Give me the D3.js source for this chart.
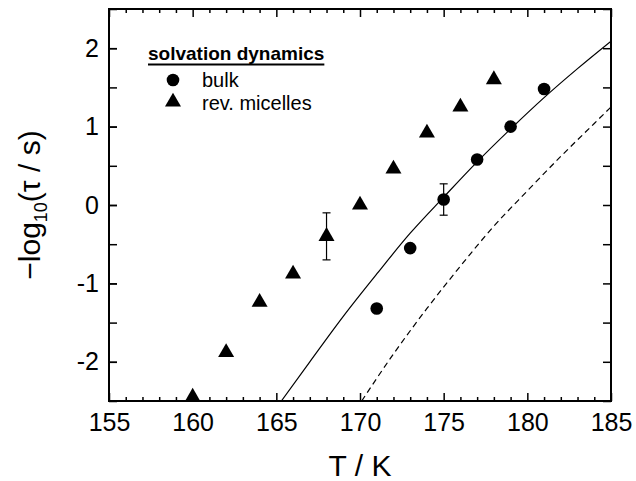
<!doctype html>
<html>
<head>
<meta charset="UTF-8">
<title>solvation dynamics</title>
<script src="https://d3js.org/d3.v7.min.js"></script>
<style>
body{margin:0;background:#fff;}
text{font-family:"Liberation Sans",Arial,sans-serif;fill:#000;}
</style>
</head>
<body>
<script>
// bulk solvation dynamics (circles)
var bulkT = [171,173,175,177,179,181];
var bulkV = [-1.32,-0.55,0.07,0.58,1.0,1.48];
var bulkErr = [0,0,0.2,0,0,0];
// reverse micelles (triangles)
var micT = [160,162,164,166,168,170,172,174,176,178];
var micV = [-2.45,-1.88,-1.24,-0.88,-0.40,0.0,0.46,0.92,1.25,1.60];
var micErr = [0,0,0,0,0.3,0,0,0,0,0];
// solid fit curve
var fitT = [165.3,167,169,171,173,175,177,179,181,183,185];
var fitV = [-2.5,-2.0,-1.42,-0.88,-0.36,0.1,0.55,0.97,1.37,1.74,2.09];
// dashed curve
var dashT = [170.1,172,174,176,178,180,182,184,185];
var dashV = [-2.5,-1.9,-1.32,-0.78,-0.27,0.18,0.62,1.04,1.25];

var xTicks = [155,160,165,170,175,180,185];
var yTicks = [-2,-1,0,1,2];
var yTickLabels = ["-2","-1","0","1","2"];

var w = 636, h = 481;
var padL = 109, padR = 611, padT = 9, padB = 401;

var x = d3.scaleLinear().domain([155,185]).range([padL,padR]);
var y = d3.scaleLinear().domain([-2.5,2.5]).range([padB,padT]);

var svg = d3.select("body").append("svg").attr("width",w).attr("height",h);

svg.append("clipPath").attr("id","plot")
    .append("rect").attr("x",padL).attr("y",padT).attr("width",padR-padL).attr("height",padB-padT);

function pairs(a,b){
    return a.map(function(d,i){ return [d,b[i]]; });
}

var line = d3.line()
    .x(function(d){ return x(d[0]); })
    .y(function(d){ return y(d[1]); })
    .curve(d3.curveMonotoneX);

svg.append("path").datum(pairs(fitT,fitV))
    .attr("d",line).attr("fill","none").attr("stroke","#000").attr("stroke-width",1.2)
    .attr("clip-path","url(#plot)");
svg.append("path").datum(pairs(dashT,dashV))
    .attr("d",line).attr("fill","none").attr("stroke","#000").attr("stroke-width",1.2)
    .attr("stroke-dasharray","6,4").attr("clip-path","url(#plot)");

// error bars
function errbars(T,V,E){
    var d = T.map(function(t,i){ return {t:t,v:V[i],e:E[i]}; }).filter(function(d){ return d.e>0; });
    var g = svg.append("g").attr("stroke","#000").attr("stroke-width",1.2);
    d.forEach(function(p){
        var cx = x(p.t);
        g.append("line").attr("x1",cx).attr("x2",cx).attr("y1",y(p.v+p.e)).attr("y2",y(p.v-p.e));
        g.append("line").attr("x1",cx-4).attr("x2",cx+4).attr("y1",y(p.v+p.e)).attr("y2",y(p.v+p.e));
        g.append("line").attr("x1",cx-4).attr("x2",cx+4).attr("y1",y(p.v-p.e)).attr("y2",y(p.v-p.e));
    });
}
errbars(bulkT,bulkV,bulkErr);
errbars(micT,micV,micErr);

svg.append("g").selectAll("circle").data(pairs(bulkT,bulkV)).enter()
    .append("circle")
    .attr("cx",function(d){ return x(d[0]); })
    .attr("cy",function(d){ return y(d[1]); })
    .attr("r",6.3).attr("fill","#000");

var tri = d3.symbol().type(d3.symbolTriangle).size(111);
svg.append("g").selectAll("path").data(pairs(micT,micV)).enter()
    .append("path")
    .attr("d",tri)
    .attr("transform",function(d){ return "translate("+x(d[0])+","+y(d[1])+")"; })
    .attr("fill","#000");

// axes, ticks pointing inward on all four sides
var minorX = d3.range(155,186,1).filter(function(d){ return d%5!==0; });
var minorY = d3.range(-2.5,2.51,0.5);

function styleAxis(g){
    g.select(".domain").remove();
    g.selectAll(".tick line").attr("stroke","#000").attr("stroke-width",1.5);
    g.selectAll("text").attr("font-size",25).attr("font-family","Liberation Sans, Arial, sans-serif");
}

svg.append("g").attr("transform","translate(0,"+padB+")")
    .call(d3.axisBottom(x).tickValues(minorX).tickSize(-4).tickFormat(""))
    .call(styleAxis);
svg.append("g").attr("transform","translate(0,"+padB+")")
    .call(d3.axisBottom(x).tickValues(xTicks).tickSize(-8).tickPadding(12).tickFormat(d3.format("d")))
    .call(styleAxis);
svg.append("g").attr("transform","translate(0,"+padT+")")
    .call(d3.axisTop(x).tickValues(minorX).tickSize(-4).tickFormat(""))
    .call(styleAxis);
svg.append("g").attr("transform","translate(0,"+padT+")")
    .call(d3.axisTop(x).tickValues(xTicks).tickSize(-8).tickFormat(""))
    .call(styleAxis);

svg.append("g").attr("transform","translate("+padL+",0)")
    .call(d3.axisLeft(y).tickValues(minorY).tickSize(-8).tickFormat(""))
    .call(styleAxis);
svg.append("g").attr("transform","translate("+padL+",0)")
    .call(d3.axisLeft(y).tickValues(yTicks).tickSize(-8).tickPadding(10)
        .tickFormat(function(d,i){ return yTickLabels[i]; }))
    .call(styleAxis);
svg.append("g").attr("transform","translate("+padR+",0)")
    .call(d3.axisRight(y).tickValues(minorY).tickSize(-8).tickFormat(""))
    .call(styleAxis);

svg.append("rect").attr("x",padL).attr("y",padT)
    .attr("width",padR-padL).attr("height",padB-padT)
    .attr("fill","none").attr("stroke","#000").attr("stroke-width",2);

// axis titles
svg.append("text").attr("x",(padL+padR)/2).attr("y",476)
    .attr("text-anchor","middle").attr("font-size",30).text("T / K");

var yt = svg.append("text").attr("transform","translate(40,"+((padT+padB)/2)+") rotate(-90)")
    .attr("text-anchor","middle").attr("font-size",30);
yt.append("tspan").text("\u2212log");
yt.append("tspan").attr("font-size",18).attr("dy",7).text("10");
yt.append("tspan").attr("dy",-7).text("(\u03c4 / s)");

// legend
var lg = svg.append("g");
var head = lg.append("text").attr("x",148).attr("y",60)
    .attr("font-size",19).attr("font-weight","bold").text("solvation dynamics");
var hw = head.node().getComputedTextLength();
lg.append("line").attr("x1",148).attr("x2",148+hw).attr("y1",64.5).attr("y2",64.5)
    .attr("stroke","#000").attr("stroke-width",2);
lg.append("circle").attr("cx",173).attr("cy",80).attr("r",6.3).attr("fill","#000");
lg.append("text").attr("x",202).attr("y",87).attr("font-size",20).text("bulk");
lg.append("path").attr("d",tri).attr("transform","translate(173,102)").attr("fill","#000");
lg.append("text").attr("x",202).attr("y",110).attr("font-size",20).text("rev. micelles");
</script>
</body>
</html>
